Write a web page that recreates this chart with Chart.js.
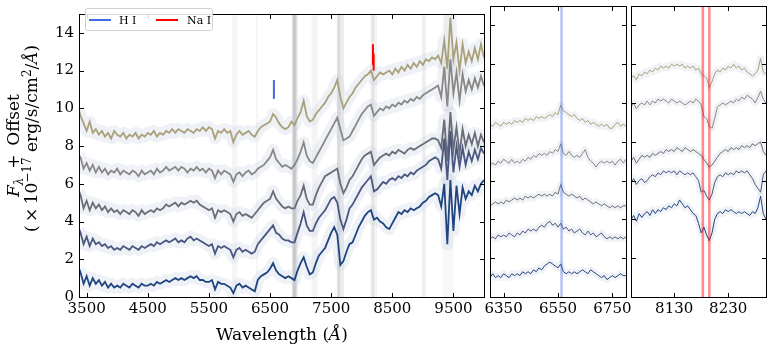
<!DOCTYPE html>
<html>
<head>
<meta charset="utf-8">
<script src="https://cdn.jsdelivr.net/npm/chart.js@4.4.1/dist/chart.umd.min.js"></script>
<style>
  body { margin: 0; background: #fff; }
  #wrap { position: relative; width: 772px; height: 351px; }
  canvas { position: absolute; left: 0; top: 0; }
</style>
</head>
<body>
<div id="wrap">
  <canvas id="full" width="772" height="351"></canvas>
  <canvas id="halpha" width="772" height="351"></canvas>
  <canvas id="nai" width="772" height="351"></canvas>
</div>
<script>
// spectra, bottom (s1) to top (s5), flux + offset in 1e-17 erg/s/cm2/A
var wlFull = [3375,
  3400,3450,3500,3550,3600,3650,3700,3750,3800,3850,
  3900,3950,4000,4050,4100,4150,4200,4250,4300,4350,
  4400,4450,4500,4550,4600,4650,4700,4750,4800,4850,
  4900,4950,5000,5050,5100,5150,5200,5250,5300,5350,
  5400,5450,5500,5550,5600,5650,5700,5750,5800,5850,
  5900,5950,6000,6050,6100,6150,6200,6250,6300,6350,
  6400,6450,6500,6550,6600,6650,6700,6750,6800,6850,
  6900,6950,7000,7050,7100,7150,7200,7250,7300,7350,
  7400,7450,7500,7550,7600,7650,7700,7750,7800,7850,
  7900,7950,8000,8050,8100,8150,8200,8250,8300,8350,
  8400,8450,8500,8550,8600,8650,8700,8750,8800,8850,
  8900,8950,9000,9050,9100,9150,9200,9250,9300,9350,
  9400,9450,9500,9550,9600,9650,9700,9750,9800,9850,
  9900,9950,10000];

var s5Full = [9.9,
  9.6,9.2,8.8,9.3,8.7,8.9,8.6,8.8,8.5,8.7,
  8.4,8.8,8.6,8.5,8.7,8.4,8.6,8.5,8.7,8.4,
  8.6,8.5,8.7,8.6,8.8,8.5,8.7,8.6,8.8,8.7,
  8.9,8.7,8.9,8.8,8.7,8.9,8.8,8.7,8.9,8.8,
  9.0,8.8,9.0,8.9,8.4,8.8,8.7,8.9,8.7,8.8,
  8.2,8.6,8.8,8.6,8.7,8.8,8.6,8.5,8.8,9.0,
  9.1,9.2,9.3,9.7,9.5,9.2,9.0,8.9,9.0,9.3,
  9.1,9.5,9.8,10.4,9.6,9.3,9.4,9.7,9.9,10.1,
  10.3,10.6,10.8,11.1,11.5,10.6,10.0,10.3,10.6,10.8,
  11.1,11.3,11.5,11.7,11.8,12.0,11.5,11.7,11.9,11.8,
  11.9,12.0,11.8,12.1,11.9,12.2,12.0,12.3,12.1,12.4,
  12.2,12.5,12.3,12.6,12.5,12.7,12.6,12.8,12.4,13.6,
  12.1,14.8,12.6,13.5,12.0,13.4,12.4,13.0,12.5,13.2,
  12.6,13.4,12.7];

var s4Full = [7.5,
  7.4,6.8,7.1,6.7,7.0,6.6,6.9,6.6,6.8,6.5,
  6.7,6.6,6.8,6.5,6.7,6.6,6.5,6.7,6.6,6.4,
  6.7,6.5,6.6,6.7,6.5,6.8,6.6,6.7,6.9,6.7,
  6.8,6.9,6.7,6.9,6.8,6.6,6.8,6.7,6.9,6.7,
  6.8,6.6,6.8,6.7,6.3,6.7,6.5,6.7,6.6,6.5,
  6.1,6.5,6.6,6.4,6.6,6.7,6.5,6.6,6.8,6.9,
  7.0,7.2,7.4,7.8,7.3,7.1,6.9,7.0,6.9,6.8,
  7.0,7.3,7.7,8.2,7.5,7.2,7.1,7.4,7.7,8.0,
  8.3,8.6,8.9,9.2,9.5,8.9,8.3,8.4,8.5,8.8,
  9.1,9.4,9.7,9.9,10.1,10.2,9.6,9.8,10.0,9.9,
  10.1,10.0,10.2,10.1,10.3,10.2,10.4,10.3,10.5,10.4,
  10.6,10.5,10.7,10.8,10.9,11.0,11.1,11.2,10.6,12.2,
  10.1,12.6,10.8,11.9,10.4,11.8,10.9,11.5,11.0,11.6,
  11.1,11.7,11.2];

var s3Full = [5.6,
  5.4,4.7,5.1,4.6,5.0,4.7,4.9,4.6,4.8,4.5,
  4.7,4.5,4.6,4.4,4.6,4.5,4.4,4.6,4.5,4.3,
  4.6,4.4,4.5,4.6,4.5,4.7,4.6,4.7,4.9,4.8,
  4.9,5.0,4.8,5.0,4.9,5.0,5.1,5.0,5.1,4.9,
  4.8,4.7,4.6,4.7,4.2,4.6,4.5,4.6,4.5,4.4,
  4.0,4.4,4.5,4.3,4.4,4.3,4.2,4.4,4.6,4.8,
  5.0,5.1,5.2,5.6,5.2,5.0,4.8,4.7,4.8,4.7,
  4.7,5.1,5.4,5.9,5.2,4.9,4.9,5.4,5.8,6.1,
  6.4,6.5,6.6,6.7,6.8,6.0,5.5,5.8,6.2,6.4,
  6.7,7.0,7.3,7.5,7.6,7.7,7.0,7.2,7.4,7.5,
  7.6,7.5,7.7,7.6,7.8,7.7,7.6,7.8,7.9,7.8,
  7.9,8.0,8.1,8.2,8.3,8.4,8.4,8.3,7.9,9.4,
  7.2,9.8,7.8,9.0,7.6,8.9,8.0,8.6,8.1,8.7,
  8.0,8.6,8.2];

var s2Full = [3.6,
  3.4,2.8,3.2,2.7,3.1,2.8,2.9,2.7,2.8,2.6,
  2.7,2.5,2.6,2.5,2.7,2.6,2.5,2.7,2.6,2.5,
  2.7,2.6,2.7,2.8,2.7,2.9,2.8,2.9,3.0,2.9,
  3.0,3.1,2.9,3.0,2.9,3.1,3.2,3.0,3.1,3.0,
  2.9,2.8,2.7,2.8,2.3,2.7,2.6,2.7,2.6,2.5,
  2.1,2.5,2.6,2.4,2.5,2.4,2.3,2.4,2.8,3.0,
  3.2,3.4,3.6,3.8,3.4,3.3,3.1,3.0,3.0,2.9,
  2.9,3.4,3.9,4.5,3.8,3.5,3.5,3.9,4.2,4.4,
  4.6,4.9,5.2,5.3,5.0,4.1,3.6,4.1,4.7,4.9,
  5.2,5.5,5.8,6.0,6.2,6.4,5.6,5.7,5.9,6.1,
  6.0,6.2,6.3,6.2,6.4,6.3,6.5,6.4,6.6,6.5,
  6.7,6.8,6.9,7.0,7.2,7.3,7.4,7.3,6.8,8.4,
  6.2,8.8,6.6,8.0,6.9,7.9,7.0,7.7,7.2,7.8,
  7.3,7.9,7.6];

var s1Full = [1.5,
  1.3,0.7,1.1,0.6,1.0,0.7,0.9,0.6,0.8,0.5,
  0.7,0.5,0.6,0.5,0.7,0.6,0.5,0.7,0.6,0.5,
  0.7,0.6,0.6,0.7,0.6,0.8,0.7,0.8,0.9,0.8,
  0.9,1.0,0.9,1.0,0.9,1.0,1.1,1.0,1.1,0.9,
  0.9,0.8,0.8,0.9,0.4,0.8,0.7,0.7,0.6,0.5,
  0.2,0.6,0.7,0.5,0.6,0.5,0.4,0.3,0.9,1.1,
  1.2,1.3,1.5,1.8,1.4,1.2,1.1,1.0,1.1,1.0,
  0.9,1.4,1.8,2.1,1.6,1.2,1.3,1.8,2.2,2.4,
  2.6,3.0,3.4,3.7,3.3,1.7,1.9,2.4,2.8,2.9,
  3.3,3.7,4.0,4.3,4.5,4.6,4.1,4.2,4.0,3.9,
  3.7,3.6,3.9,4.2,4.5,4.4,4.6,4.5,4.7,4.6,
  4.7,4.8,5.0,5.1,5.3,5.4,5.5,5.4,4.8,6.0,
  2.8,6.2,3.5,5.9,4.4,5.8,5.2,5.6,5.4,5.9,
  5.6,6.0,6.2];

// H-alpha region
var wlHa = [
  6300,6310,6320,6330,6340,6350,6360,6370,6380,6390,
  6400,6410,6420,6430,6440,6450,6460,6470,6480,6490,
  6500,6510,6520,6530,6540,6550,6560,6570,6580,6590,
  6600,6610,6620,6630,6640,6650,6660,6670,6680,6690,
  6700,6710,6720,6730,6740,6750,6760,6770,6780,6790,
  6800];
var s5Ha = [
  8.9,8.8,9.0,8.9,8.8,9.0,8.9,9.0,8.9,9.1,
  9.0,9.1,9.0,9.2,9.1,9.2,9.1,9.3,9.2,9.3,
  9.2,9.3,9.4,9.3,9.5,9.4,9.9,9.6,9.5,9.4,
  9.3,9.4,9.2,9.1,9.2,9.0,9.1,8.9,9.0,8.9,
  8.8,8.9,8.8,8.9,8.7,8.7,8.9,9.0,8.8,8.9,
  8.8];
var s4Ha = [
  6.8,6.9,6.8,7.0,6.9,7.1,7.0,6.9,7.1,6.9,
  7.0,6.9,7.1,7.0,7.2,7.1,7.3,7.2,7.4,7.3,
  7.4,7.3,7.5,7.4,7.6,7.5,7.9,7.4,7.3,7.5,
  7.3,7.2,7.3,7.2,7.4,7.6,7.2,7.0,6.9,6.7,
  6.9,7.0,6.9,7.0,6.9,7.0,6.8,7.0,7.1,6.9,
  7.1];
var s3Ha = [
  4.7,4.8,4.9,4.8,4.9,4.8,5.0,4.9,5.0,5.1,
  5.0,5.1,5.0,5.2,5.1,5.2,5.1,5.2,5.3,5.2,
  5.3,5.2,5.3,5.2,5.4,5.3,5.8,5.4,5.3,5.2,
  5.3,5.2,5.1,5.2,5.0,5.1,5.0,4.9,4.8,4.9,
  4.8,4.7,4.8,4.7,4.6,4.7,4.6,4.7,4.6,4.7,
  4.7];
var s2Ha = [
  3.0,3.1,3.0,3.2,3.1,3.2,3.1,3.3,3.2,3.1,
  3.3,3.2,3.4,3.3,3.5,3.4,3.5,3.4,3.6,3.7,
  3.6,3.8,3.9,3.7,3.8,3.6,3.8,3.5,3.6,3.4,
  3.5,3.3,3.4,3.5,3.3,3.2,3.4,3.2,3.3,3.1,
  3.2,3.3,3.1,3.0,3.1,3.0,3.1,3.0,3.1,3.0,
  3.1];
var s1Ha = [
  1.0,1.2,1.0,1.1,1.0,1.2,1.1,1.0,1.2,1.1,
  1.2,1.1,1.3,1.2,1.3,1.2,1.4,1.3,1.5,1.4,
  1.6,1.7,1.8,1.7,1.6,1.5,1.7,1.3,1.2,1.3,
  1.2,1.3,1.2,1.3,1.4,1.3,1.2,1.4,1.3,1.2,
  1.1,1.0,1.1,0.9,1.0,1.1,1.0,1.1,1.2,1.1,
  1.1];

// Na I doublet region
var wlNa = [
  8050,8055,8060,8065,8070,8075,8080,8085,8090,8095,
  8100,8105,8110,8115,8120,8125,8130,8135,8140,8145,
  8150,8155,8160,8165,8170,8175,8180,8185,8190,8195,
  8200,8205,8210,8215,8220,8225,8230,8235,8240,8245,
  8250,8255,8260,8265,8270,8275,8280,8285,8290,8295,
  8300];
var s5Na = [
  11.3,11.4,11.2,11.5,11.4,11.6,11.5,11.7,11.6,11.8,
  11.7,11.9,11.8,11.9,11.8,12.0,11.9,12.0,11.9,12.0,
  11.8,11.9,11.8,11.9,11.7,11.8,11.5,11.4,11.3,10.8,
  11.1,11.5,11.7,11.6,11.8,11.7,11.9,11.8,12.0,11.8,
  11.9,11.7,11.8,11.6,11.5,11.4,11.5,11.7,12.3,11.6,
  11.5];
var s4Na = [
  9.8,10.0,9.7,9.9,10.0,9.9,10.1,9.9,10.1,10.0,
  10.2,10.1,10.2,10.1,10.0,10.2,10.1,10.0,10.1,10.0,
  9.9,10.0,10.1,10.0,10.2,10.1,9.9,9.3,9.2,8.8,
  8.7,9.2,9.8,9.9,10.0,9.9,10.0,10.1,10.0,10.2,
  10.1,10.3,10.2,10.4,10.3,10.2,10.0,10.3,10.6,10.2,
  10.0];
var s3Na = [
  7.0,7.2,6.9,7.1,7.3,7.2,7.3,7.2,7.4,7.3,
  7.4,7.5,7.4,7.6,7.5,7.6,7.5,7.7,7.6,7.5,
  7.7,7.6,7.5,7.6,7.5,7.4,7.3,7.1,6.9,6.7,
  6.8,7.0,7.2,7.4,7.5,7.6,7.5,7.7,7.6,7.7,
  7.6,7.8,7.7,7.8,7.7,7.9,7.8,7.9,8.0,7.5,
  7.3];
var s2Na = [
  5.9,6.1,5.8,6.0,6.1,5.9,6.0,6.2,6.3,6.2,
  6.4,6.3,6.5,6.4,6.5,6.4,6.5,6.3,6.5,6.4,
  6.3,6.4,6.3,6.4,6.2,6.0,5.4,5.5,5.2,5.0,
  5.3,5.9,6.2,6.3,6.2,6.4,6.3,6.4,6.3,6.5,
  6.4,6.5,6.4,6.5,6.3,6.1,5.8,5.6,5.4,6.3,
  6.5];
var s1Na = [
  4.0,4.2,3.9,4.3,4.1,4.3,4.4,4.2,4.5,4.3,
  4.5,4.4,4.6,4.5,4.7,4.6,4.8,4.7,5.0,4.8,
  4.6,4.7,4.5,4.3,4.2,3.8,3.3,3.6,3.2,2.9,
  3.3,4.0,4.3,4.4,4.3,4.5,4.4,4.5,4.4,4.3,
  4.4,4.3,4.4,4.3,4.2,4.4,4.3,4.6,5.2,4.3,
  4.0];

// line positions and markers
var hiWave = 6563;
var naWaves = [8183, 8195];
var hiMarker = [10.5, 11.5];
var naMarkers = [[12.3, 13.4], [12.0, 12.9]];

// telluric regions (A)
var tellurics = [
  {from: 5880, to: 5960, depth: 0.07},
  {from: 6275, to: 6300, depth: 0.08},
  {from: 6860, to: 6950, depth: 0.22},
  {from: 6880, to: 6920, depth: 0.25},
  {from: 7180, to: 7280, depth: 0.08},
  {from: 7595, to: 7710, depth: 0.12},
  {from: 7600, to: 7650, depth: 0.14},
  {from: 8140, to: 8250, depth: 0.09},
  {from: 8170, to: 8200, depth: 0.12},
  {from: 8990, to: 9045, depth: 0.12},
  {from: 9320, to: 9500, depth: 0.05}
];

// axes
var yTicks = [0, 2, 4, 6, 8, 10, 12, 14];
var xTicksFull = [3500, 4500, 5500, 6500, 7500, 8500, 9500];
var xTicksHa = [6350, 6550, 6750];
var xTicksNa = [8130, 8230];

var seriesColors = ['#1f4580', '#4a5780', '#6a6c78', '#8a8884', '#aaa17a'];
var hiColor = '#4169e1';
var naColor = '#ff0000';

Chart.defaults.font.family = "'DejaVu Serif', serif";
Chart.defaults.font.size = 15;
Chart.defaults.color = '#000';

function points(wl, flux) {
    return wl.map(function (x, i) { return {x: x, y: flux[i]}; });
}

function spectrumSets(wl, fluxes, lineW, haloW, haloColor) {
    var sets = [];
    fluxes.forEach(function (f, k) {
        sets.push({data: points(wl, f), borderColor: haloColor, borderWidth: haloW,
                   pointRadius: 0, order: 2, borderJoinStyle: 'round'});
        sets.push({data: points(wl, f), borderColor: seriesColors[k], borderWidth: lineW,
                   pointRadius: 0, order: 1});
    });
    return sets;
}

function vline(x, y0, y1, color, w) {
    return {data: [{x: x, y: y0}, {x: x, y: y1}], borderColor: color, borderWidth: w,
            pointRadius: 0, order: 0};
}

// rich text: array of {t, f, dy}; anchor 'center' or 'start' at (cx, cy), rotated
function drawRich(ctx, parts, cx, cy, rot, anchor) {
    ctx.save();
    ctx.translate(cx, cy);
    ctx.rotate(rot);
    ctx.textAlign = 'left';
    ctx.textBaseline = 'alphabetic';
    var w = 0;
    parts.forEach(function (p) { ctx.font = p.f; w += ctx.measureText(p.t).width; });
    var x = anchor === 'start' ? 0 : -w / 2;
    parts.forEach(function (p) {
        ctx.font = p.f;
        ctx.fillText(p.t, x, p.dy || 0);
        x += ctx.measureText(p.t).width;
    });
    ctx.restore();
}

function framePlugin(cfg) {
    return {
        id: 'frame',
        beforeDatasetsDraw: function (chart) {
            if (!cfg.bands) return;
            var ctx = chart.ctx, a = chart.chartArea, x = chart.scales.x;
            ctx.save();
            cfg.bands.forEach(function (b) {
                var p0 = x.getPixelForValue(b.from), p1 = x.getPixelForValue(b.to);
                ctx.fillStyle = 'rgba(110,110,110,' + b.depth + ')';
                ctx.fillRect(p0, a.top, p1 - p0, a.bottom - a.top);
            });
            ctx.restore();
        },
        afterDraw: function (chart) {
            var ctx = chart.ctx, a = chart.chartArea, x = chart.scales.x, y = chart.scales.y;
            var L = Math.round(a.left) + 0.5, R = Math.round(a.right) + 0.5;
            var T = Math.round(a.top) + 0.5, B = Math.round(a.bottom) + 0.5;
            ctx.save();
            ctx.strokeStyle = '#000';
            ctx.lineWidth = 1;
            ctx.beginPath();
            cfg.xTicks.forEach(function (v) {
                var px = Math.round(x.getPixelForValue(v)) + 0.5;
                ctx.moveTo(px, B); ctx.lineTo(px, B - 4.5);
                ctx.moveTo(px, T); ctx.lineTo(px, T + 4.5);
            });
            yTicks.forEach(function (v) {
                var py = Math.round(y.getPixelForValue(v)) + 0.5;
                ctx.moveTo(L, py); ctx.lineTo(L + 4.5, py);
                ctx.moveTo(R, py); ctx.lineTo(R - 4.5, py);
            });
            ctx.stroke();
            ctx.strokeRect(L, T, R - L, B - T);

            if (cfg.main) {
                // legend
                ctx.fillStyle = 'rgba(255,255,255,0.85)';
                ctx.strokeStyle = '#d0d0d0';
                ctx.beginPath();
                ctx.roundRect(85.5, 8.5, 127, 22, 2);
                ctx.fill();
                ctx.stroke();
                ctx.lineWidth = 2;
                ctx.strokeStyle = hiColor;
                ctx.beginPath(); ctx.moveTo(89, 20); ctx.lineTo(111, 20); ctx.stroke();
                ctx.strokeStyle = naColor;
                ctx.beginPath(); ctx.moveTo(156, 20); ctx.lineTo(178, 20); ctx.stroke();
                ctx.fillStyle = '#000';
                ctx.font = "11px 'DejaVu Serif'";
                ctx.textBaseline = 'alphabetic';
                ctx.fillText('H I', 119, 24);
                ctx.fillText('Na I', 187, 24);

                // axis titles
                var it = "italic 17px 'DejaVu Serif'", rm = "17px 'DejaVu Serif'", sm = "12px 'DejaVu Serif'";
                drawRich(ctx, [{t: 'F', f: it}, {t: 'λ', f: "italic 12px 'DejaVu Serif'", dy: 4},
                               {t: ' \u2009+\u2009 Offset', f: rm}], 18.5, 197, -Math.PI / 2, 'start');
                drawRich(ctx, [{t: '(\u2009×\u200910', f: rm}, {t: '−17', f: sm, dy: -6},
                               {t: ' erg/s/cm', f: rm}, {t: '2', f: sm, dy: -6},
                               {t: '/', f: rm}, {t: 'Å', f: it}, {t: ')', f: rm}],
                         37, 232, -Math.PI / 2, 'start');
                drawRich(ctx, [{t: 'Wavelength (', f: rm}, {t: 'Å', f: it}, {t: ')', f: rm}],
                         282, 340, 0, 'center');
            }
            ctx.restore();
        }
    };
}

function makeChart(id, cfg) {
    return new Chart(document.getElementById(id), {
        type: 'line',
        data: {datasets: cfg.datasets},
        options: {
            responsive: false,
            animation: false,
            events: [],
            layout: {padding: cfg.pad},
            plugins: {legend: {display: false}, tooltip: {enabled: false}},
            scales: {
                x: {
                    type: 'linear', min: cfg.xMin, max: cfg.xMax,
                    grid: {display: false, drawTicks: false}, border: {display: false},
                    ticks: {padding: 3, maxRotation: 0, autoSkip: false,
                            callback: function (v) { return String(v); }},
                    afterBuildTicks: function (s) { s.ticks = cfg.xTicks.map(function (v) { return {value: v}; }); },
                    afterFit: function (s) { s.height = 54; }
                },
                y: {
                    type: 'linear', min: 0, max: 15, display: cfg.main,
                    grid: {display: false, drawTicks: false}, border: {display: false},
                    ticks: {padding: 5, callback: function (v) { return String(v); }},
                    afterBuildTicks: function (s) { s.ticks = yTicks.map(function (v) { return {value: v}; }); },
                    afterFit: function (s) { s.width = cfg.main ? 79 : 0; }
                }
            }
        },
        plugins: [framePlugin(cfg)]
    });
}

var fullSets = spectrumSets(wlFull, [s1Full, s2Full, s3Full, s4Full, s5Full], 1.8, 12, 'rgba(200,207,222,0.3)');
fullSets.push(vline(hiWave, hiMarker[0], hiMarker[1], hiColor, 2));
naWaves.forEach(function (w, i) { fullSets.push(vline(w, naMarkers[i][0], naMarkers[i][1], naColor, 2)); });

var haSets = spectrumSets(wlHa, [s1Ha, s2Ha, s3Ha, s4Ha, s5Ha], 1, 7, 'rgba(205,212,225,0.3)');
haSets.push(vline(hiWave, 0, 15, 'rgba(65,105,225,0.4)', 2.5));

var naSets = spectrumSets(wlNa, [s1Na, s2Na, s3Na, s4Na, s5Na], 1, 7, 'rgba(205,212,225,0.3)');
naWaves.forEach(function (w) { naSets.push(vline(w, 0, 15, 'rgba(255,0,0,0.45)', 2.5)); });

makeChart('full', {datasets: fullSets, xMin: 3375, xMax: 10000, xTicks: xTicksFull,
                   pad: {left: 0, right: 288, top: 6, bottom: 0}, main: true, bands: tellurics});
makeChart('halpha', {datasets: haSets, xMin: 6300, xMax: 6800, xTicks: xTicksHa,
                     pad: {left: 490, right: 146, top: 6, bottom: 0}, main: false});
makeChart('nai', {datasets: naSets, xMin: 8050, xMax: 8300, xTicks: xTicksNa,
                  pad: {left: 631, right: 6, top: 6, bottom: 0}, main: false});
</script>
</body>
</html>
